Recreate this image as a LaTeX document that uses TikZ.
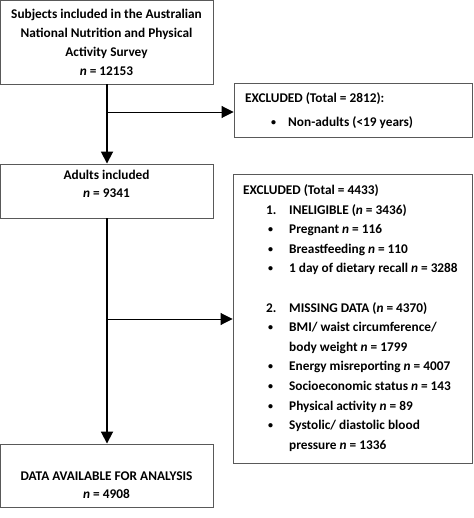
\documentclass[tikz,border=0pt]{standalone}
\usepackage{fontspec}
\setmainfont{Carlito}
\usetikzlibrary{arrows.meta}
\begin{document}
\begin{tikzpicture}[x=1pt,y=-1pt,
  box/.style={draw=black!65,line width=0.9pt,rectangle,inner sep=0pt},
  txt/.style={inner sep=0pt,font=\fontsize{13.3}{19}\selectfont\bfseries},
  bul/.style={inner sep=0pt,font=\fontsize{10}{19}\selectfont\bfseries},
  mainarrow/.style={line width=1.8pt,-{Triangle[length=12pt,width=12pt]}},
  sidearrow/.style={line width=0.9pt,-{Triangle[length=12pt,width=12pt]}}]
\useasboundingbox (0,0) rectangle (473,518);
% boxes
\node[box,minimum width=212.5pt,minimum height=83.5pt] (b1) at (106.75,42.25) {};
\node[box,minimum width=212.5pt,minimum height=54pt] (b2) at (106.75,191) {};
\node[box,minimum width=212.5pt,minimum height=63pt] (b3) at (106.75,475.5) {};
\node[box,minimum width=238pt,minimum height=54pt] (e1) at (353,110) {};
\node[box,minimum width=239pt,minimum height=289pt] (e2) at (352.5,318.5) {};
% texts box 1
\node[txt,anchor=base] at (106.5,19) {Subjects included in the Australian};
\node[txt,anchor=base] at (106.5,38) {National Nutrition and Physical};
\node[txt,anchor=base] at (106.5,57) {Activity Survey};
\node[txt,anchor=base] at (106.5,76) {\textit{n} = 12153};
% box 2
\node[txt,anchor=base] at (106.5,179.5) {Adults included};
\node[txt,anchor=base] at (106.5,197.5) {\textit{n} = 9341};
% box 3
\node[txt,anchor=base] at (106.5,480.5) {DATA AVAILABLE FOR ANALYSIS};
\node[txt,anchor=base] at (106.5,498.5) {\textit{n} = 4908};
% excluded 1
\node[txt,anchor=base west] at (245,102.5) {EXCLUDED (Total = 2812):};
\node[bul,anchor=base west] at (271,125.5) {•};
\node[txt,anchor=base west] at (288,126.5) {Non-adults (<19 years)};
% excluded 2
\node[txt,anchor=base west] at (243,194.5) {EXCLUDED (Total = 4433)};
\node[txt,anchor=base west] at (266,214.1) {1.};
\node[txt,anchor=base west] at (289,214.1) {INELIGIBLE (\textit{n} = 3436)};
\node[bul,anchor=base west] at (268,232.7) {•};
\node[txt,anchor=base west] at (289,233.7) {Pregnant \textit{n} = 116};
\node[bul,anchor=base west] at (268,252.3) {•};
\node[txt,anchor=base west] at (289,253.3) {Breastfeeding \textit{n} = 110};
\node[bul,anchor=base west] at (268,271.9) {•};
\node[txt,anchor=base west] at (289,272.9) {1 day of dietary recall \textit{n} = 3288};
\node[txt,anchor=base west] at (266,312.1) {2.};
\node[txt,anchor=base west] at (289,312.1) {MISSING DATA (\textit{n} = 4370)};
\node[bul,anchor=base west] at (268,330.7) {•};
\node[txt,anchor=base west] at (289,331.7) {BMI/ waist circumference/};
\node[txt,anchor=base west] at (289,351.3) {body weight \textit{n} = 1799};
\node[bul,anchor=base west] at (268,369.9) {•};
\node[txt,anchor=base west] at (289,370.9) {Energy misreporting \textit{n} = 4007};
\node[bul,anchor=base west] at (268,389.5) {•};
\node[txt,anchor=base west] at (289,390.5) {Socioeconomic status \textit{n} = 143};
\node[bul,anchor=base west] at (268,409.1) {•};
\node[txt,anchor=base west] at (289,410.1) {Physical activity \textit{n} = 89};
\node[bul,anchor=base west] at (268,428.7) {•};
\node[txt,anchor=base west] at (289,429.7) {Systolic/ diastolic blood};
\node[txt,anchor=base west] at (289,449.3) {pressure \textit{n} = 1336};
% connectors
\coordinate (j1) at (107,112);
\coordinate (j2) at (107,319);
\draw[mainarrow] (b1.south -| j1) -- (b2.north -| j1);
\draw[mainarrow] (b2.south -| j1) -- (b3.north -| j1);
\draw[sidearrow] (j1) -- (e1.west |- j1);
\draw[sidearrow] (j2) -- (e2.west |- j2);
\end{tikzpicture}
\end{document}
